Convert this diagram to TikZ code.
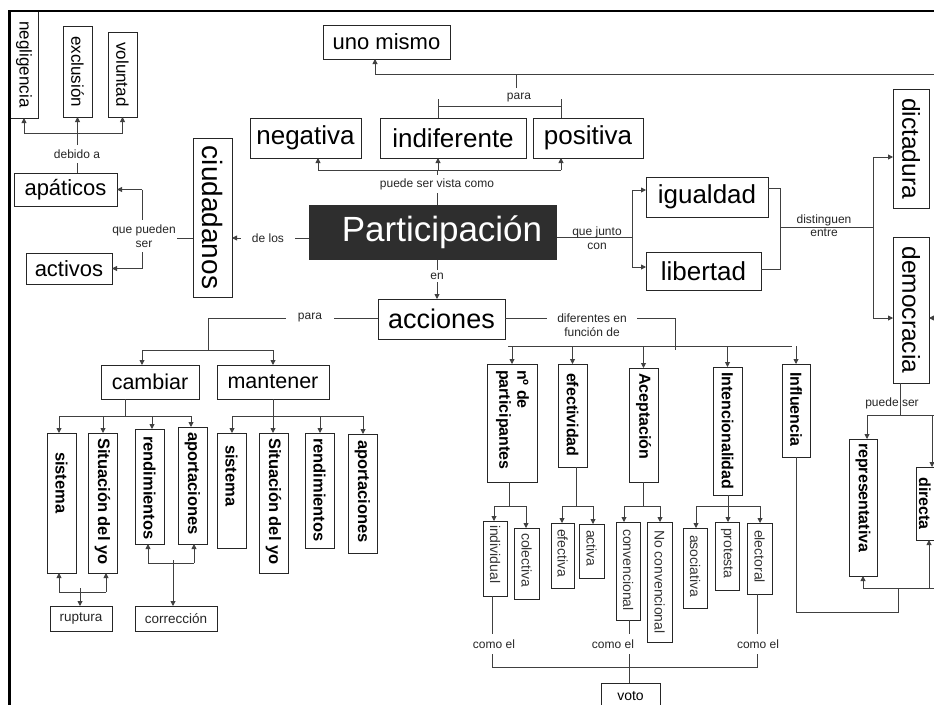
\documentclass[tikz,border=0pt]{standalone}
\usepackage{fontspec}
\setmainfont{Liberation Sans}
\usepackage{graphicx}
\usetikzlibrary{arrows.meta}
\newcommand\mkbox[6][]{%
 \pgfmathsetmacro\mkbw{#5-#3}%
 \pgfmathsetmacro\mkbh{#6-#4}%
 \pgfmathsetmacro\mkbx{(#3+#5)/2}%
 \pgfmathsetmacro\mkby{(#4+#6)/2}%
 \node[box,minimum width=\mkbw pt,minimum height=\mkbh pt,#1] (#2) at (\mkbx,\mkby)}
\newcommand\vtxt[2]{\rotatebox{-90}{\makebox[\mkbh pt][l]{\hspace{#1pt}#2}}}
\newcommand\vc[1]{\rotatebox{-90}{#1}}
\begin{document}
\begin{tikzpicture}[x=1pt,y=-1pt,
  box/.style={draw=black!85,line width=0.9pt,inner sep=0pt,outer sep=0pt,rectangle},
  ln/.style={draw=black!75,line width=0.9pt},
  arr/.style={ln,-{Triangle[length=5pt,width=5pt]}},
  lbl/.style={font=\fontsize{12}{14}\selectfont,text=black!85,inner sep=1.5pt,align=center},
  lblw/.style={lbl,fill=white,inner xsep=4pt,inner ysep=4pt},
  f14/.style={font=\fontsize{14}{16}\selectfont},
  f17/.style={font=\fontsize{17}{20}\selectfont},
  f22/.style={font=\fontsize{22}{26}\selectfont},
  f25/.style={font=\fontsize{24.5}{28}\selectfont},
  f26/.style={font=\fontsize{26}{30}\selectfont},
  f27/.style={font=\fontsize{27}{30}\selectfont},
  vb/.style={font=\fontsize{16.5}{19}\selectfont\bfseries},
  cb/.style={font=\fontsize{16}{18}\selectfont\bfseries},
  sb/.style={font=\fontsize{14}{16}\selectfont,text=black!80},
  sm/.style={font=\fontsize{13.5}{16}\selectfont,text=black!85}]
\useasboundingbox (0,0) rectangle (934,704);
\clip (0,0) rectangle (934,704);
% ---------- boxes
\mkbox[f17]{negl}{10}{11}{38}{118}{\vc{negligencia}};
\mkbox[f17]{excl}{63}{26}{92}{117}{\vc{exclusión}};
\mkbox[f17]{volu}{108}{32}{137}{117}{\vc{voluntad}};
\mkbox[f22]{apat}{14}{173}{117}{206}{apáticos};
\mkbox[f22]{activ}{26}{253}{112}{284}{activos};
\mkbox[font=\fontsize{28}{32}\selectfont]{ciud}{193}{138}{232}{297}{\vc{ciudadanos}};
\mkbox[f22]{uno}{323}{25}{450}{59}{uno mismo};
\mkbox[f26]{negat}{250}{118}{361}{158}{negativa};
\mkbox[f26]{indif}{380}{118}{526}{158}{indiferente};
\mkbox[f26]{posit}{533}{118}{643}{158}{positiva};
\mkbox[font=\fontsize{35}{40}\selectfont,fill=black!82,draw=none,text=white]{part}{309}{205}{557}{260}{\hspace{18pt}Participación};
\mkbox[f26]{igual}{646}{177}{768}{217}{igualdad};
\mkbox[f26]{liber}{646}{252}{761}{290}{libertad};
\mkbox[f25]{dict}{893}{89}{929}{208}{\vc{dictadura}};
\mkbox[f25]{demo}{893}{237}{929}{383}{\vc{democracia}};
\mkbox[f27]{acc}{378}{299}{505}{339}{acciones};
\mkbox[font=\fontsize{21.5}{25}\selectfont]{camb}{101}{365}{199}{399}{cambiar};
\mkbox[font=\fontsize{21.5}{25}\selectfont]{mant}{217}{365}{329}{399}{mantener};
\mkbox[vb]{csis}{47}{433}{76}{573}{\vtxt{19}{sistema}};
\mkbox[vb]{csit}{88}{433}{117}{573}{\vtxt{5}{Situación del yo}};
\mkbox[vb]{cren}{135}{429}{164}{544}{\vtxt{7}{rendimientos}};
\mkbox[vb]{capo}{178}{427}{207}{544}{\vtxt{5}{aportaciones}};
\mkbox[vb]{msis}{217}{433}{246}{548}{\vtxt{12}{sistema}};
\mkbox[vb]{msit}{259}{433}{288}{573}{\vtxt{5}{Situación del yo}};
\mkbox[vb]{mren}{305}{433}{334}{548}{\vtxt{5}{rendimientos}};
\mkbox[vb]{mapo}{348}{434}{377}{553}{\vtxt{6}{aportaciones}};
\mkbox[sm]{rupt}{50}{606}{112}{631}{ruptura};
\mkbox[sm]{corr}{135}{606}{217}{631}{corrección};
\mkbox[cb]{npar}{487}{364}{537}{482}{\vtxt{6}{\begin{tabular}{@{}l@{}}nº de\\participantes\end{tabular}}};
\mkbox[cb]{efec}{558}{364}{587}{467}{\vtxt{9}{efectividad}};
\mkbox[cb]{acep}{629}{368}{658}{482}{\vtxt{5}{Aceptación}};
\mkbox[cb]{inte}{713}{367}{742}{495}{\vtxt{5}{Intencionalidad}};
\mkbox[cb]{infl}{782}{364}{810}{457}{\vtxt{8}{Influencia}};
\mkbox[sb]{indiv}{483}{521}{507}{596}{\vtxt{4}{individual}};
\mkbox[sb]{colec}{514}{528}{539}{599}{\vtxt{5}{colectiva}};
\mkbox[sb]{efva}{551}{523}{574}{588}{\vtxt{6}{efectiva}};
\mkbox[sb]{actv}{579}{524}{604}{578}{\vtxt{6}{activa}};
\mkbox[sb]{conv}{616}{522}{640}{620}{\vtxt{7}{convencional}};
\mkbox[sb]{noconv}{647}{522}{672}{642}{\vtxt{8}{No convencional}};
\mkbox[sb]{asoc}{683}{528}{707}{608}{\vtxt{7}{asociativa}};
\mkbox[sb]{prot}{715}{522}{739}{590}{\vtxt{6}{protesta}};
\mkbox[sb]{elec}{747}{523}{772}{594}{\vtxt{7}{electoral}};
\mkbox[f14]{voto}{601}{683}{660}{710}{voto};
\mkbox[cb]{repr}{849}{439}{877}{576}{\vtxt{4}{representativa}};
\mkbox[cb]{dire}{916}{467}{944}{540}{\vc{directa\rule{0pt}{22pt}}};
% ---------- connectors
% debido a
\draw[ln] (apat.north -| excl.south) -- (excl.south |- 0,133);
\draw[ln] (negl.south |- 0,133) -- (volu.south |- 0,133);
\draw[arr] (negl.south |- 0,133) -- (negl.south);
\draw[arr] (excl.south |- 0,133) -- (excl.south);
\draw[arr] (volu.south |- 0,133) -- (volu.south);
\node[lblw,inner ysep=5pt] (ldeb) at (77,154) {debido a};
% que pueden ser
\coordinate (qp) at (142,238);
\draw[ln] (ciud.west |- qp) -- (qp);
\draw[ln] (qp |- apat.east) -- (qp |- activ.east);
\draw[arr] (qp |- apat.east) -- (apat.east);
\draw[arr] (qp |- activ.east) -- (activ.east);
\node[lblw,inner ysep=5pt,inner xsep=1pt] (lqp) at (144,236) {que pueden\\ser};
% de los
\draw[arr] (part.west |- 0,238) -- (ciud.east |- 0,238);
\node[lblw,inner xsep=11pt] (ldl) at (268,238) {de los};
% puede ser vista como
\draw[ln] (part.north -| 437,0) -- (437,170);
\draw[ln] (318,170) -- (561,170);
\draw[arr] (318,170) -- (negat.south -| 318,0);
\draw[arr] (438,170) -- (indif.south -| 438,0);
\draw[arr] (561,170) -- (posit.south -| 561,0);
\node[lblw,inner ysep=3pt] (lpsv) at (437,184) {puede ser vista como};
% para (top)
\draw[ln] (indif.north -| 438,0) -- (438,99);
\draw[ln] (posit.north -| 561,0) -- (561,99);
\draw[ln] (438,106) -- (561,106);
\node[lbl] (lpara1) at (519,98) {para};
\draw[ln] (516,88) -- (516,74);
\draw[ln] (375,74) -- (940,74);
\draw[arr] (375,74) -- (uno.south -| 375,0);
% que junto con
\draw[ln] (part.east |- 0,237) -- (632,237);
\draw[ln] (632,190) -- (632,267);
\draw[arr] (632,190) -- (igual.west |- 0,190);
\draw[arr] (632,267) -- (liber.west |- 0,267);
\node[lbl] (lqj) at (597,238) {que junto\\con};
% distinguen entre
\draw[ln] (igual.east |- 0,188) -- (780,188) -- (780,269) -- (liber.east |- 0,269);
\draw[ln] (780,227) -- (873,227);
\draw[ln] (873,157) -- (873,318);
\draw[arr] (873,157) -- (dict.west |- 0,157);
\draw[arr] (873,318) -- (demo.west |- 0,318);
\draw[arr] (942,318) -- (demo.east |- 0,318);
\node[lbl,font=\fontsize{12}{13}\selectfont] (lde) at (824,225.5) {distinguen\\entre};
% en
\draw[arr] (part.south -| 437,0) -- (acc.north -| 437,0);
\node[lblw,inner ysep=3pt] (len) at (437,276) {en};
% puede ser (democracia)
\draw[ln] (demo.south -| 900,0) -- (900,415);
\draw[ln] (867,415) -- (942,415);
\draw[arr] (867,415) -- (repr.north -| 867,0);
\draw[arr] (932,415) -- (dire.north -| 932,0);
\node[lbl] (lps) at (892,403) {puede ser};
% Influencia
\draw[ln] (infl.south) -- (infl.south |- 0,612) -- (898,612) -- (898,588);
\draw[ln] (863,588) -- (942,588);
\draw[arr] (863,588) -- (repr.south -| 863,0);
\draw[arr] (929,588) -- (dire.south -| 929,0);
% acciones para
\draw[ln] (acc.west |- 0,318) -- (208,318) -- (208,350);
\draw[ln] (142,350) -- (273,350);
\draw[arr] (142,350) -- (camb.north -| 142,0);
\draw[arr] (273,350) -- (mant.north -| 273,0);
\node[lblw,inner xsep=12pt] (lpara2) at (310,318) {para};
% cambiar children
\draw[ln] (camb.south -| 125,0) -- (125,416);
\draw[ln] (59,416) -- (191,416);
\draw[arr] (59,416) -- (csis.north -| 59,0);
\draw[arr] (103,416) -- (csit.north -| 103,0);
\draw[arr] (152,416) -- (cren.north -| 152,0);
\draw[arr] (191,416) -- (capo.north -| 191,0);
% mantener children
\draw[ln] (mant.south -| 273,0) -- (273,416);
\draw[ln] (232,416) -- (363,416);
\draw[arr] (232,416) -- (msis.north -| 232,0);
\draw[arr] (273,416) -- (msit.north -| 273,0);
\draw[arr] (320,416) -- (mren.north -| 320,0);
\draw[arr] (363,416) -- (mapo.north -| 363,0);
% ruptura
\draw[ln] (59,592) -- (106,592);
\draw[arr] (59,592) -- (csis.south -| 59,0);
\draw[arr] (106,592) -- (csit.south -| 106,0);
\draw[arr] (80,588) -- (rupt.north -| 80,0);
% correccion
\draw[ln] (148,563) -- (194,563);
\draw[arr] (148,563) -- (cren.south -| 148,0);
\draw[arr] (194,563) -- (capo.south -| 194,0);
\draw[arr] (173,560) -- (corr.north -| 173,0);
% diferentes en funcion de
\draw[ln] (acc.east |- 0,318) -- (675,318) -- (675,350);
\draw[ln] (508,346) -- (792,346);
\foreach \n in {npar,efec,acep,inte,infl} \draw[arr] (\n.north |- 0,346) -- (\n.north);
\node[lblw,inner xsep=10pt,inner ysep=2pt] (ldif) at (592,325) {diferentes en\\función de};
% sub children
\draw[ln] (npar.south -| 509,0) -- (509,506);
\draw[ln] (494,506) -- (526,506);
\draw[arr] (494,506) -- (indiv.north -| 494,0);
\draw[arr] (526,506) -- (colec.north -| 526,0);
\draw[ln] (efec.south -| 576,0) -- (576,506);
\draw[ln] (562,506) -- (593,506);
\draw[arr] (562,506) -- (efva.north -| 562,0);
\draw[arr] (593,506) -- (actv.north -| 593,0);
\draw[ln] (acep.south -| 643,0) -- (643,506);
\draw[ln] (624,506) -- (660,506);
\draw[arr] (624,506) -- (conv.north -| 624,0);
\draw[arr] (660,506) -- (noconv.north -| 660,0);
\draw[ln] (inte.south -| 728,0) -- (728,506);
\draw[ln] (696,506) -- (760,506);
\draw[arr] (696,506) -- (asoc.north -| 696,0);
\draw[arr] (728,506) -- (prot.north -| 728,0);
\draw[arr] (760,506) -- (elec.north -| 760,0);
% como el -> voto
\draw[ln] (indiv.south -| 492,0) -- (492,667) -- (757,667) -- (elec.south -| 757,0);
\draw[ln] (conv.south -| 629,0) -- (voto.north -| 629,0);
\node[lblw,inner ysep=6pt] (lc1) at (494,644) {como el};
\node[lblw,inner ysep=6pt] (lc2) at (613,644) {como el};
\node[lblw,inner ysep=6pt] (lc3) at (758,644) {como el};
% frame
\draw[line width=2.5pt,black] (9.3,710) -- (9.3,11) -- (940,11);
\end{tikzpicture}
\end{document}
